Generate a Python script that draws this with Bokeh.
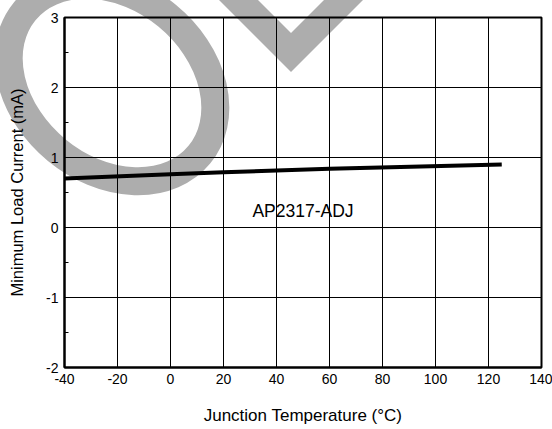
import urllib.parse
from bokeh.plotting import figure
from bokeh.models import Range1d, FixedTicker, Label, InlineStyleSheet
from bokeh.embed import file_html
from bokeh.resources import INLINE

# ---- data ----
temps = [-40, 0, 20, 60, 125]
min_load_ma = [0.70, 0.76, 0.79, 0.84, 0.90]
x_ticks = [-40, -20, 0, 20, 40, 60, 80, 100, 120, 140]
y_ticks = [-2, -1, 0, 1, 2, 3]
y_minor = [-1.5, -0.5, 0.5, 1.5, 2.5]
series_label = "AP2317-ADJ"

FONT = "Liberation Sans"
W, H = 552, 429
L, R, T, B = 64, 541, 17, 367

p = figure(width=W, height=H, output_backend="svg", toolbar_location=None,
           x_range=Range1d(-40, 140), y_range=Range1d(-2, 3),
           min_border_left=L, min_border_right=W - R,
           min_border_top=T, min_border_bottom=H - B)
p.background_fill_color = None
p.border_fill_color = None
p.outline_line_color = "black"
p.outline_line_width = 2

# ---- watermark of the source sheet: a CSS background behind the canvas ----
wm = (f'<svg xmlns="http://www.w3.org/2000/svg" width="{W}" height="{H}">'
      '<ellipse cx="112" cy="83" rx="113" ry="87" transform="rotate(39.4 112 83)" '
      'fill="none" stroke="#adadad" stroke-width="28"/>'
      '<polygon points="291,72 201,-18 240,-18 291,33 342,-18 381,-18" fill="#adadad"/>'
      '</svg>')
css = (":host { background-color: white; background-image: url(\"data:image/svg+xml,"
       + urllib.parse.quote(wm) + "\"); background-repeat: no-repeat; "
       "background-position: 0 0; }")
p.stylesheets = [InlineStyleSheet(css=css)]

# ---- data line ----
p.line(temps, min_load_ma, line_color="black", line_width=4)

p.add_layout(Label(x=50, y=0.23, text=series_label, text_align="center",
                   text_baseline="middle", text_font=FONT,
                   text_font_size="17.5px", text_color="black"))

# ---- axes ----
p.xaxis.ticker = FixedTicker(ticks=x_ticks, minor_ticks=[])
p.yaxis.ticker = FixedTicker(ticks=y_ticks, minor_ticks=y_minor)
p.xaxis.major_label_overrides = {v: str(v) for v in x_ticks}
p.yaxis.major_label_overrides = {v: str(v) for v in y_ticks}
for ax in (p.xaxis[0], p.yaxis[0]):
    ax.axis_line_color = "black"
    ax.axis_line_width = 2
    ax.major_tick_in = 0
    ax.major_tick_out = 0
    ax.major_label_text_font = FONT
    ax.major_label_text_font_size = "14px"
    ax.major_label_text_color = "black"
    ax.axis_label_text_font = FONT
    ax.axis_label_text_font_style = "normal"
    ax.axis_label_text_color = "black"
p.xaxis.axis_label_text_font_size = "17px"
p.yaxis.axis_label_text_font_size = "16.5px"
p.xaxis.minor_tick_line_color = None
p.yaxis.minor_tick_in = 4
p.yaxis.minor_tick_out = 0
p.yaxis.minor_tick_line_color = "black"
p.xaxis.major_label_standoff = 6
p.yaxis.major_label_standoff = 6
p.xaxis.axis_label = "Junction Temperature (°C)"
p.yaxis.axis_label = "Minimum Load Current (mA)"
p.xaxis.axis_label_standoff = 19
p.yaxis.axis_label_standoff = 17

p.xgrid.ticker = FixedTicker(ticks=x_ticks)
p.ygrid.ticker = FixedTicker(ticks=y_ticks)
p.grid.grid_line_color = "black"
p.grid.grid_line_width = 1
p.grid.grid_line_alpha = 1

open("out.html", "w").write(file_html(p, INLINE))
